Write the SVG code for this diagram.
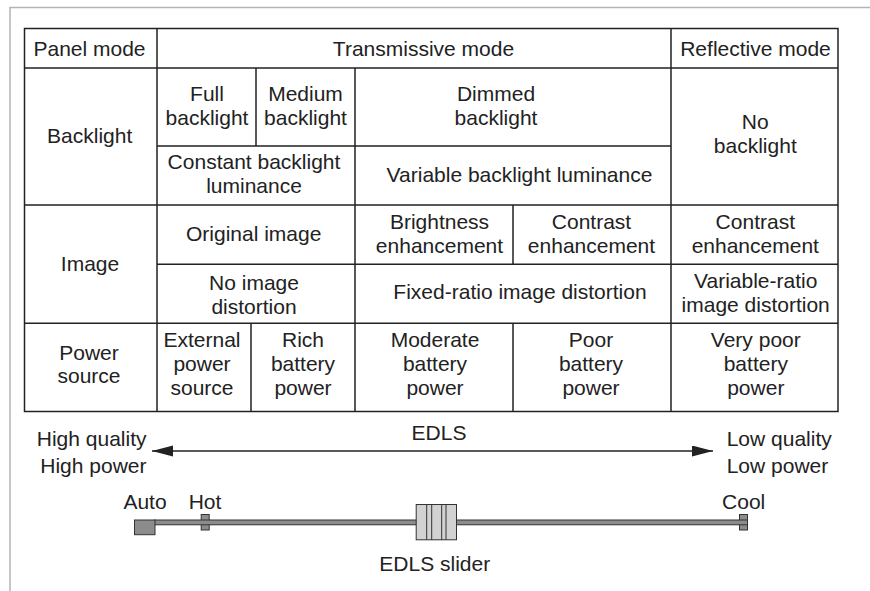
<svg xmlns="http://www.w3.org/2000/svg" width="870" height="591" viewBox="0 0 870 591">
  <style>
    text { font-family: "Liberation Sans", Arial, Helvetica, sans-serif; font-size: 21px; fill: #222; text-anchor: middle; }
    .grid { stroke: #222; stroke-width: 1.5; fill: none; }
    .frame { stroke: #b4b4b4; stroke-width: 1.5; fill: none; }
    .arrow { stroke: #222; stroke-width: 1.4; fill: none; }
    .track { fill: #8c8c8c; stroke: #333; stroke-width: 1; }
    .knob { fill: #d2d2d2; stroke: #333; stroke-width: 1; }
    .knobline { stroke: #333; stroke-width: 1; }
    .left { text-anchor: start; }
    .right { text-anchor: end; }
  </style>
  <defs>
    <marker id="head" markerUnits="userSpaceOnUse" markerWidth="22" markerHeight="12" refX="21" refY="5.5" orient="auto-start-reverse">
      <path d="M0,0 L21,5.5 L0,11 Z" fill="#222"/>
    </marker>
  </defs>

  <rect width="870" height="591" fill="#fff"/>
  <!-- page frame -->
  <path class="frame" d="M10,591 L10,7.5 L870,7.5"/>

  <!-- table grid -->
  <g id="table-grid" class="grid">
    <rect x="24.5" y="28.5" width="813.5" height="383"/>
    <path d="M24.5,68 H838 M24.5,205 H838 M24.5,323.3 H838 M157,146 H671 M157,264.3 H838"/>
    <path d="M157,28.5 V411.5 M671,28.5 V411.5 M256,68 V146 M355,68 V411.5 M513,205 V264.3 M513,323.3 V411.5 M251,323.3 V411.5"/>
  </g>

  <!-- header row -->
  <g id="panel-mode"><text x="89.5" y="55.5">Panel mode</text></g>
  <g id="transmissive-mode"><text x="423.5" y="55.5">Transmissive mode</text></g>
  <g id="reflective-mode"><text x="755.5" y="55.5">Reflective mode</text></g>

  <!-- backlight row -->
  <g id="backlight"><text x="89.7" y="142.7">Backlight</text></g>
  <g id="full-backlight"><text x="207" y="100.7">Full</text><text x="207" y="124.7">backlight</text></g>
  <g id="medium-backlight"><text x="305.5" y="100.7">Medium</text><text x="305.5" y="124.7">backlight</text></g>
  <g id="dimmed-backlight"><text x="496" y="100.7">Dimmed</text><text x="496" y="124.7">backlight</text></g>
  <g id="no-backlight"><text x="755.3" y="129.3">No</text><text x="755.3" y="153.3">backlight</text></g>
  <g id="constant-luminance"><text x="254" y="169">Constant backlight</text><text x="254" y="193">luminance</text></g>
  <g id="variable-luminance"><text x="519.5" y="181.7">Variable backlight luminance</text></g>

  <!-- image row -->
  <g id="image"><text x="90" y="270.7">Image</text></g>
  <g id="original-image"><text x="253.7" y="240.7">Original image</text></g>
  <g id="brightness-enhancement"><text x="439.5" y="228.5">Brightness</text><text x="439.5" y="252.5">enhancement</text></g>
  <g id="contrast-enhancement-t"><text x="591.5" y="228.5">Contrast</text><text x="591.5" y="252.5">enhancement</text></g>
  <g id="contrast-enhancement-r"><text x="755.3" y="228.5">Contrast</text><text x="755.3" y="252.5">enhancement</text></g>
  <g id="no-distortion"><text x="254" y="289.5">No image</text><text x="254" y="313.5">distortion</text></g>
  <g id="fixed-distortion"><text x="520" y="299">Fixed-ratio image distortion</text></g>
  <g id="variable-distortion"><text x="755.7" y="287.5">Variable-ratio</text><text x="755.7" y="311.5">image distortion</text></g>

  <!-- power row -->
  <g id="power-source"><text x="89" y="360">Power</text><text x="89" y="383">source</text></g>
  <g id="external-power"><text x="202" y="346.5">External</text><text x="202" y="370.5">power</text><text x="202" y="394.5">source</text></g>
  <g id="rich-battery"><text x="303" y="346.5">Rich</text><text x="303" y="370.5">battery</text><text x="303" y="394.5">power</text></g>
  <g id="moderate-battery"><text x="435" y="346.5">Moderate</text><text x="435" y="370.5">battery</text><text x="435" y="394.5">power</text></g>
  <g id="poor-battery"><text x="591" y="346.5">Poor</text><text x="591" y="370.5">battery</text><text x="591" y="394.5">power</text></g>
  <g id="very-poor-battery"><text x="755.8" y="346.5">Very poor</text><text x="755.8" y="370.5">battery</text><text x="755.8" y="394.5">power</text></g>

  <!-- EDLS scale -->
  <g id="connectors">
    <line class="arrow" x1="152" y1="451" x2="713" y2="451" marker-start="url(#head)" marker-end="url(#head)"/>
  </g>
  <g id="edls"><text x="439" y="440">EDLS</text></g>
  <g id="high-end"><text class="right" x="146.5" y="446">High quality</text><text class="right" x="146.5" y="472.7">High power</text></g>
  <g id="low-end"><text class="left" x="726.7" y="446">Low quality</text><text class="left" x="726.7" y="472.7">Low power</text></g>

  <!-- slider -->
  <g id="slider">
    <rect class="track" x="201.2" y="514.5" width="8" height="15.5"/>
    <rect class="track" x="739.5" y="514.5" width="8" height="15.5"/>
    <rect class="track" x="154.5" y="520" width="593" height="4.8"/>
    <rect class="track" x="134.5" y="520" width="20.5" height="14.7"/>
    <rect class="knob" x="416.2" y="504.5" width="40.3" height="35.3"/>
    <path class="knobline" d="M426.7,504.5 V539.8 M431.7,504.5 V539.8 M441.7,504.5 V539.8 M446,504.5 V539.8"/>
  </g>
  <g id="slider-labels">
    <text x="145" y="509">Auto</text>
    <text x="205" y="509">Hot</text>
    <text x="743.7" y="509">Cool</text>
    <text x="434.8" y="570.7">EDLS slider</text>
  </g>
</svg>
